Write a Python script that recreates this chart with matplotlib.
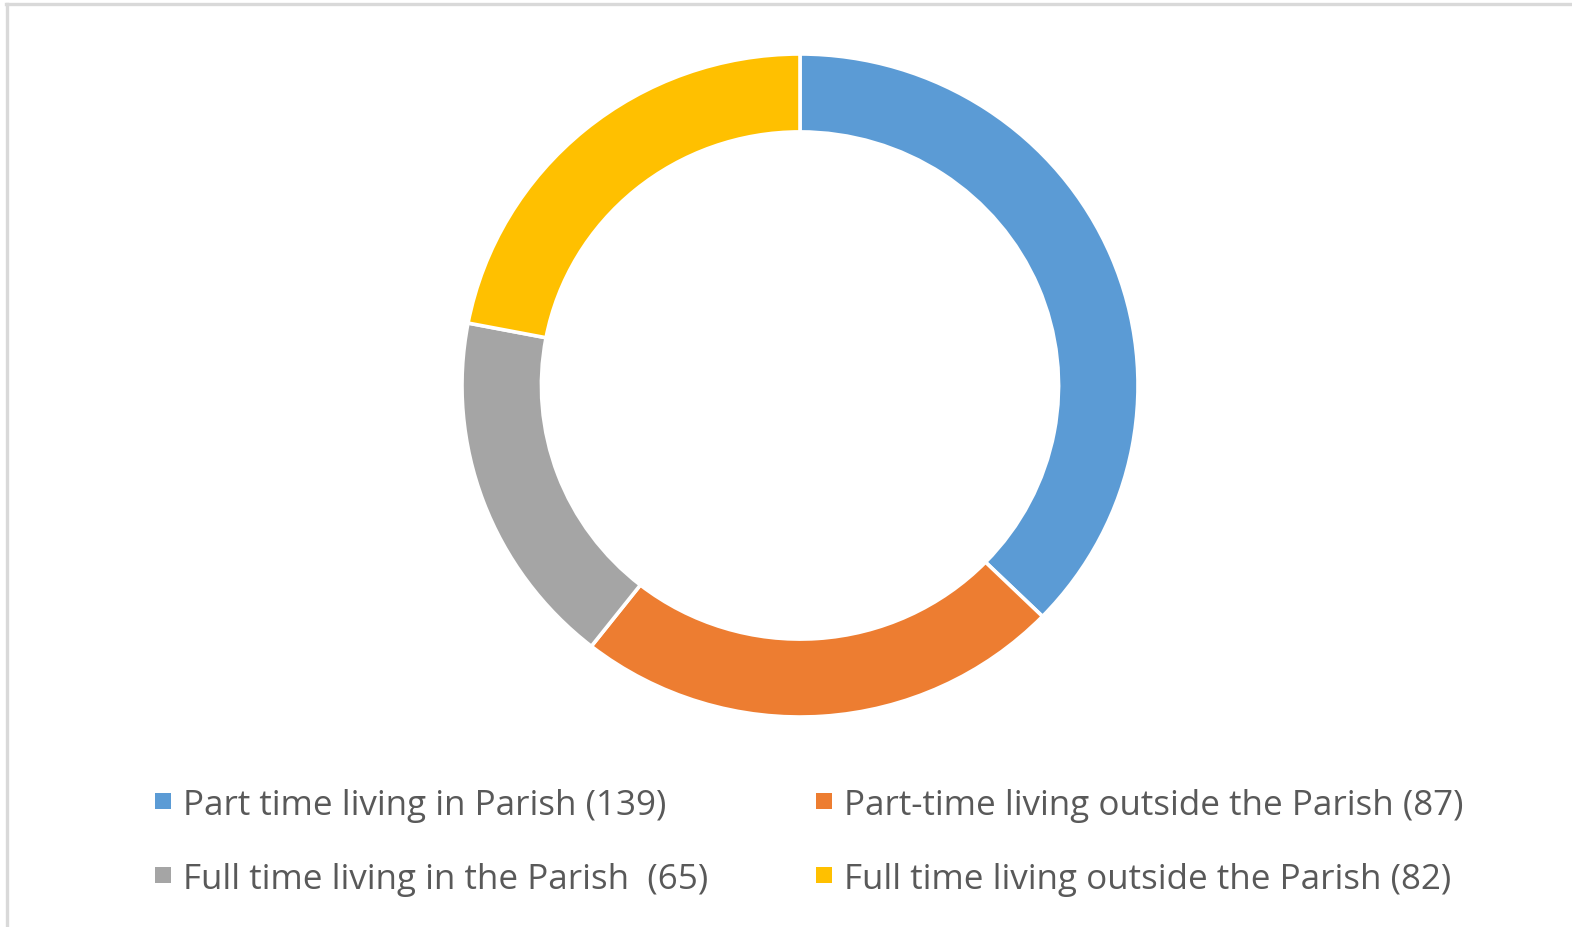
import matplotlib

matplotlib.use("Agg")
import matplotlib.pyplot as plt
from matplotlib.lines import Line2D
from matplotlib.patches import Rectangle

CATEGORIES = [
    "Part time living in Parish (139)",
    "Part-time living outside the Parish (87)",
    "Full time living in the Parish  (65)",
    "Full time living outside the Parish (82)",
]
COUNTS = [139, 87, 65, 82]
COLORS = ["#5b9bd5", "#ed7d31", "#a5a5a5", "#ffc000"]

W, H = 1572, 928
TEXT_COLOR = "#595959"


def px(x, y):
    # pixel (from top-left) -> figure fraction
    return x / W, 1 - y / H


def main() -> None:
    fig = plt.figure(figsize=(W / 100, H / 100), dpi=100)
    fig.patch.set_facecolor("white")

    # ring is slightly wider than tall in the reference
    cx, cy, rx, ry = 800, 386.5, 338, 331.5
    left, bottom = px(cx - rx, cy + ry)
    ax = fig.add_axes([left, bottom, 2 * rx / W, 2 * ry / H])
    ax.pie(
        COUNTS,
        colors=COLORS,
        startangle=90,
        counterclock=False,
        radius=1.0,
        wedgeprops={"width": 0.235, "edgecolor": "white", "linewidth": 2.6},
    )
    ax.set_aspect("auto")
    ax.set_xlim(-1.0, 1.0)
    ax.set_ylim(-1.0, 1.0)
    ax.axis("off")

    # legend, two columns
    slots = [(155, 815, 183), (816, 815, 844), (155, 889, 183), (816, 889, 844)]
    for label, color, (mx, base, tx) in zip(CATEGORIES, COLORS, slots):
        x0, y0 = px(mx, base - 5)
        fig.patches.append(
            Rectangle((x0, y0), 16 / W, 16 / H, transform=fig.transFigure,
                      facecolor=color, edgecolor="none")
        )
        fx, fy = px(tx, base)
        fig.text(fx, fy, label, fontsize=25.2, family="Open Sans", color=TEXT_COLOR,
                 ha="left", va="baseline")

    # light frame on the top and left
    fig.add_artist(Line2D([6 / W, 1], [1 - 4.5 / H, 1 - 4.5 / H], transform=fig.transFigure,
                          color="#d9d9d9", linewidth=2.4))
    fig.add_artist(Line2D([7 / W, 7 / W], [0, 1 - 4.5 / H], transform=fig.transFigure,
                          color="#d9d9d9", linewidth=2.4))

    fig.savefig("out.png", dpi=100)
    plt.close(fig)


if __name__ == "__main__":
    main()
